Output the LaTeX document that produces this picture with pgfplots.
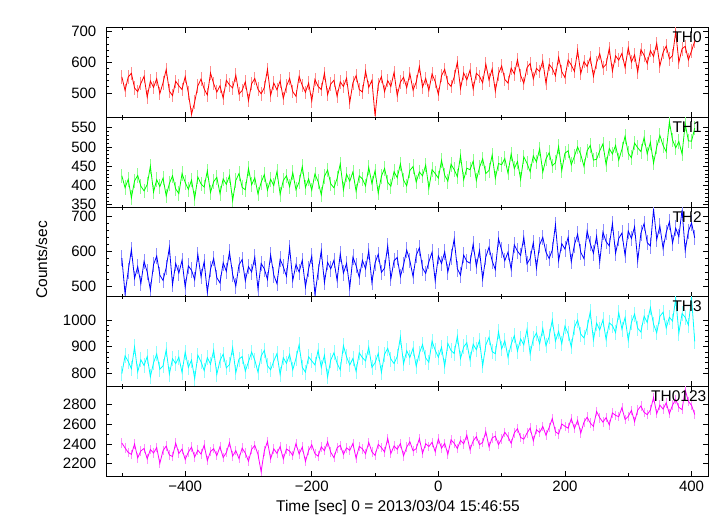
\documentclass[border=0pt]{standalone}
\usepackage{fontspec}
\setmainfont{Liberation Sans}
\usepackage{pgfplots}
\usepackage{pgfplotstable}
\pgfplotsset{compat=1.18}
\definecolor{qred}{RGB}{255,0,0}
\definecolor{qgreen}{RGB}{0,255,0}
\definecolor{qblue}{RGB}{0,0,255}
\definecolor{qcyan}{RGB}{0,255,255}
\definecolor{qmag}{RGB}{255,0,255}

\pgfplotstableread{
t th0 th1 th2 th3 thall
-500 552 425 581 800 2410
-495 508 394 480 866 2360
-490 552 416 545 845 2315
-485 564 368 605 818 2295
-480 516 412 524 899 2400
-475 504 426 557 806 2260
-470 531 398 509 851 2330
-465 554 386 572 830 2355
-460 486 402 542 863 2250
-455 539 450 491 788 2345
-450 518 383 563 840 2309
-445 546 415 587 873 2364
-440 498 397 533 816 2204
-435 533 419 518 828 2334
-430 576 373 554 888 2379
-425 506 405 611 798 2289
-420 491 425 506 855 2274
-415 538 391 566 837 2409
-410 523 379 539 861 2304
-405 511 431 575 804 2349
-400 553 408 499 880 2243
-395 500 390 559 823 2318
-390 430 414 547 850 2368
-385 470 366 520 781 2268
-380 523 422 592 868 2338
-375 545 404 529 844 2298
-370 513 396 571 811 2388
-365 493 438 484 859 2233
-360 565 382 550 835 2323
-355 530 410 580 886 2353
-350 503 421 526 797 2283
-345 523 379 511 848 2373
-340 483 417 568 872 2263
-335 541 403 544 821 2313
-330 526 425 598 833 2413
-325 516 361 535 896 2278
-320 558 413 502 803 2333
-315 496 431 562 854 2253
-310 508 395 577 863 2358
-305 536 389 517 809 2308
-300 475 444 557 844 2226
-295 530 402 542 880 2346
-290 547 420 584 850 2386
-285 512 378 494 805 2296
-280 497 408 566 865 2120
-275 517 428 551 886 2331
-270 577 388 521 829 2426
-265 492 416 590 814 2251
-260 532 400 533 847 2351
-255 510 436 509 874 2306
-250 539 377 578 796 2374
-245 482 413 557 859 2249
-240 522 425 530 838 2349
-235 547 397 611 871 2329
-230 504 433 518 814 2284
-225 489 389 563 856 2404
-220 554 409 542 907 2299
-215 524 449 575 823 2369
-210 502 395 500 805 2224
-205 532 417 551 862 2334
-200 474 388 587 847 2392
-195 544 430 478 832 2302
-190 521 410 542 886 2277
-185 511 376 602 823 2372
-180 564 424 512 868 2332
-175 494 440 569 787 2422
-170 529 404 551 850 2317
-165 541 394 575 877 2262
-160 489 418 518 838 2362
-155 536 456 593 814 2387
-150 521 389 539 904 2296
-145 548 429 566 862 2361
-140 468 411 497 832 2336
-135 533 435 584 856 2406
-130 556 385 560 808 2256
-125 511 425 527 877 2376
-120 503 417 575 859 2351
-115 571 399 551 847 2301
-110 518 447 602 898 2416
-105 541 405 512 823 2321
-100 425 438 568 840 2285
-95 527 380 592 875 2397
-90 553 424 541 804 2364
-85 504 444 553 872 2320
-80 540 408 616 894 2457
-75 521 398 523 854 2304
-70 567 436 574 837 2381
-65 491 420 583 863 2347
-60 535 456 529 936 2404
-55 551 414 562 836 2281
-50 517 399 604 885 2368
-45 563 439 574 860 2424
-40 509 449 529 894 2331
-35 535 409 589 827 2353
-30 586 435 610 876 2455
-25 519 425 553 908 2306
-20 547 453 538 858 2403
-15 508 393 571 842 2375
-10 562 441 598 921 2417
-5 537 431 517 887 2323
0 495 419 587 861 2450
5 556 465 566 898 2358
10 577 427 599 827 2407
15 533 411 542 912 2295
20 521 455 584 886 2443
25 552 441 635 875 2407
30 600 423 551 939 2355
35 514 477 533 856 2438
40 565 415 590 899 2402
45 543 445 572 915 2490
50 574 441 567 851 2343
55 513 463 621 909 2432
60 564 413 558 889 2475
65 554 447 603 923 2393
70 533 469 522 828 2417
75 594 431 585 907 2525
80 542 439 612 935 2373
85 578 479 573 882 2462
90 506 419 549 874 2480
95 562 457 636 956 2394
100 588 454 604 892 2452
105 544 470 574 922 2519
110 532 432 598 861 2475
115 581 482 550 909 2407
120 562 444 619 941 2514
125 608 462 601 884 2555
130 557 416 589 929 2467
135 531 474 640 907 2449
140 582 458 565 964 2510
145 596 436 580 873 2562
150 546 477 625 930 2433
155 580 461 553 951 2545
160 570 495 619 911 2517
165 604 435 640 968 2578
170 531 469 598 904 2490
175 593 485 580 937 2567
180 580 451 604 1000 2658
185 556 459 676 921 2525
190 616 501 574 957 2502
195 569 439 622 911 2603
200 550 484 607 977 2580
205 607 490 640 949 2561
210 591 454 571 899 2657
215 570 476 619 973 2558
220 639 500 649 999 2639
225 563 480 598 947 2510
230 602 450 580 933 2621
235 586 490 658 971 2672
240 615 504 622 1030 2613
245 554 466 595 926 2579
250 599 468 643 988 2730
255 628 490 571 963 2666
260 582 508 655 1000 2622
265 593 454 628 927 2668
270 645 496 616 989 2594
275 571 482 679 979 2715
280 621 504 595 953 2691
285 607 466 637 1027 2677
290 629 494 652 966 2768
295 583 528 589 1009 2649
300 647 484 658 924 2680
305 601 472 637 991 2741
310 624 510 670 1022 2628
315 568 498 574 969 2744
320 641 488 652 955 2786
325 623 524 679 1014 2722
330 596 482 625 991 2698
335 638 512 616 1046 2745
340 619 458 720 984 2871
345 662 500 634 952 2708
350 588 530 672 1013 2794
355 632 504 609 1029 2755
360 653 488 654 970 2817
365 611 565 684 1010 2708
370 622 518 624 996 2795
375 700 498 666 1080 2851
380 600 514 642 951 2772
385 644 482 718 1024 2749
390 652 560 603 1010 2950
395 608 516 657 981 2832
400 637 515 681 1085 2793
405 669 549 639 920 2700
}\lcdata

\pgfplotsset{
  panel/.style={
    scale only axis, width=601.3pt, height=89.66pt, anchor=south west,
    xmin=-524, xmax=426,
    xtick={-400,-200,0,200,400},
    minor xtick={-500,-300,-100,100,300},
    xticklabels={},
    tick align=inside,
    major tick length=5pt, minor tick length=2.5pt,
    axis line style={black, line width=0.8pt},
    tick style={black, line width=0.7pt},
    tick label style={font=\fontsize{15}{18}\selectfont},
    yticklabel style={xshift=-5pt},
  },
  ebars/.style={draw=none, mark=*, mark size=0pt,
    mark options={draw=none, fill=none}, forget plot,
    error bars/.cd, y dir=both, y explicit, error mark=none,
    error bar style={line width=0.8pt, draw=#1}},
}
\tikzset{thlab/.style={anchor=north east, inner sep=0pt, font=\fontsize{15.5}{18}\selectfont}}

\begin{document}
\fontsize{15.5}{18}\selectfont
\begin{tikzpicture}
% panel 1: TH0
\begin{axis}[panel, at={(106.7pt,398.64pt)},
  ymin=420, ymax=713, ytick={500,600,700}, yticklabels={500,600,700},
  minor y tick num=4]
\addplot[ebars=qred!45] table[x=t,y=th0,y error expr=22]{\lcdata};
\addplot[qred, mark=none, line width=0.8pt] table[x=t,y=th0]{\lcdata};
\node[thlab, xshift=-6pt, yshift=-4pt] at (rel axis cs:1,1) {TH0};
\node[anchor=base west, inner sep=0pt, yshift=7.7pt] at (rel axis cs:0,1)
  {ae707035020\_20130304154655\_wam0\_trn\_4band\_long.qdp};
\end{axis}
% panel 2: TH1
\begin{axis}[panel, at={(106.7pt,308.98pt)},
  ymin=344, ymax=577, ytick={350,400,450,500,550},
  yticklabels={350,400,450,500,550}, minor y tick num=4]
\addplot[ebars=qgreen!45] table[x=t,y=th1,y error expr=19]{\lcdata};
\addplot[qgreen, mark=none, line width=0.8pt] table[x=t,y=th1]{\lcdata};
\node[thlab, xshift=-6pt, yshift=-4pt] at (rel axis cs:1,1) {TH1};
\end{axis}
% panel 3: TH2
\begin{axis}[panel, at={(106.7pt,219.32pt)},
  ymin=472, ymax=726, ytick={500,600,700}, yticklabels={500,600,700},
  minor y tick num=4]
\addplot[ebars=qblue!45] table[x=t,y=th2,y error expr=22]{\lcdata};
\addplot[qblue, mark=none, line width=0.8pt] table[x=t,y=th2]{\lcdata};
\node[thlab, xshift=-6pt, yshift=-4pt] at (rel axis cs:1,1) {TH2};
\end{axis}
% panel 4: TH3
\begin{axis}[panel, at={(106.7pt,129.66pt)},
  ymin=752, ymax=1087, ytick={800,900,1000}, yticklabels={800,900,1000},
  minor y tick num=4]
\addplot[ebars=qcyan!45] table[x=t,y=th3,y error expr=28]{\lcdata};
\addplot[qcyan, mark=none, line width=0.8pt] table[x=t,y=th3]{\lcdata};
\node[thlab, xshift=-6pt, yshift=-4pt] at (rel axis cs:1,1) {TH3};
\end{axis}
% panel 5: TH0123
\begin{axis}[panel, at={(106.7pt,40pt)},
  ymin=2076, ymax=2985, ytick={2200,2400,2600,2800},
  yticklabels={2200,2400,2600,2800}, minor y tick num=1,
  xticklabels={−400,−200,0,200,400}]
\addplot[ebars=qmag!45] table[x=t,y=thall,y error expr=48]{\lcdata};
\addplot[qmag, mark=none, line width=0.8pt] table[x=t,y=thall]{\lcdata};
\node[thlab, xshift=-1.5pt, yshift=-4pt] at (rel axis cs:1,1) {TH0123};
\end{axis}
\node[rotate=90, anchor=base, inner sep=0pt] at (47pt,256pt) {Counts/sec};
\node[anchor=base, inner sep=0pt] at (398pt,4pt) {Time [sec] 0 = 2013/03/04 15:46:55};
\pgfresetboundingbox
\useasboundingbox (0pt,0pt) rectangle (718pt,516pt);
\end{tikzpicture}
\end{document}
